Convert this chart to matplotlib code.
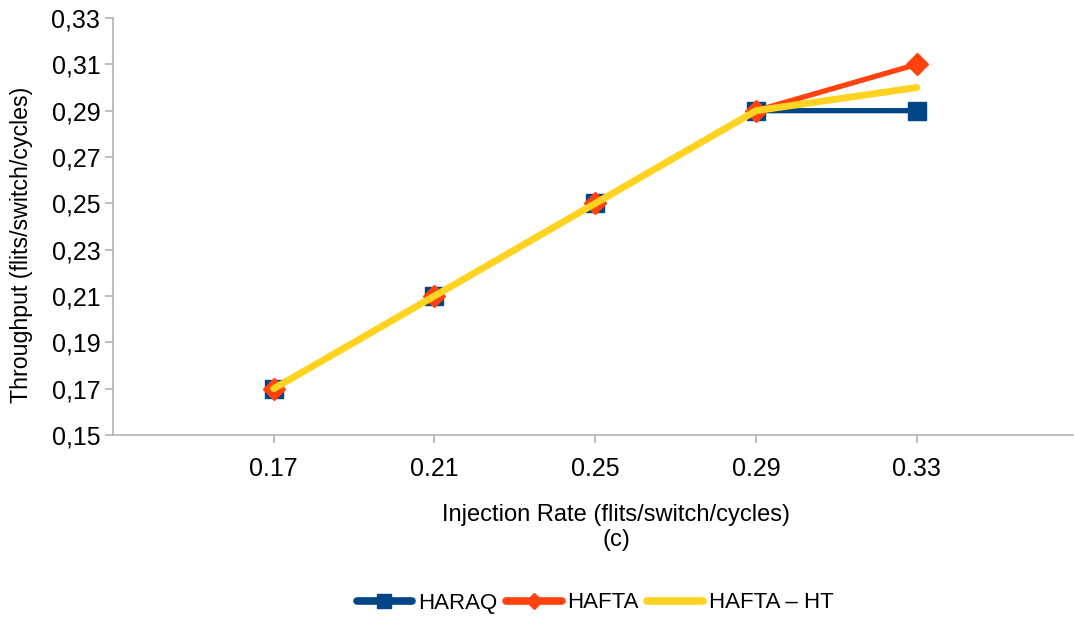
import matplotlib.pyplot as plt
from matplotlib.ticker import FuncFormatter

plt.rcParams['font.family'] = ['Liberation Sans', 'DejaVu Sans']

# data
categories = ["0.17", "0.21", "0.25", "0.29", "0.33"]
haraq = [0.17, 0.21, 0.25, 0.29, 0.29]
hafta = [0.17, 0.21, 0.25, 0.29, 0.31]
hafta_ht = [0.17, 0.21, 0.25, 0.29, 0.30]
y_ticks = [0.15, 0.17, 0.19, 0.21, 0.23, 0.25, 0.27, 0.29, 0.31, 0.33]

fig = plt.figure(figsize=(10.75, 6.21), dpi=100)
ax = fig.add_axes([0.105, 0.2995, 0.893, 0.6715])

x = list(range(len(categories)))
ax.plot(x, haraq, color="#004586", lw=3.8, marker="s", ms=13.5,
        solid_capstyle="round", label="HARAQ", zorder=3)
ax.plot(x, hafta, color="#ff420e", lw=3.8, marker="D", ms=11,
        solid_capstyle="round", label="HAFTA", zorder=4)
ax.plot(x, hafta_ht, color="#ffd320", lw=5, solid_capstyle="round",
        label="HAFTA \u2013 HT", zorder=5)

ax.set_xlim(-1, 4.97)
ax.set_ylim(0.15, 0.33)
ax.set_xticks(x)
ax.set_xticklabels(categories)
ax.set_yticks(y_ticks)
ax.yaxis.set_major_formatter(FuncFormatter(lambda v, p: f"{v:.2f}".replace(".", ",")))

for side in ["top", "right"]:
    ax.spines[side].set_visible(False)
for side in ["left", "bottom"]:
    ax.spines[side].set_color("#b3b3b3")
    ax.spines[side].set_linewidth(1.2)
ax.tick_params(axis="both", colors="#b3b3b3", length=6, width=1.2,
               labelcolor="black", labelsize=18)
ax.tick_params(axis="x", pad=10)
ax.tick_params(axis="y", pad=3)

fig.text(616 / 1075, 1 - 515 / 621, "Injection Rate (flits/switch/cycles)",
         ha="center", va="center", fontsize=17)
fig.text(616 / 1075, 1 - 540 / 621, "(c)", ha="center", va="center", fontsize=17)
fig.text(22 / 1075, 1 - 245 / 621, "Throughput (flits/switch/cycles)",
         ha="center", va="center", rotation=90, fontsize=16.7)

leg = fig.legend(loc="center", bbox_to_anchor=(595 / 1075, 1 - 603 / 621), ncol=3,
                 frameon=False, fontsize=16, handlelength=2.5, handletextpad=0.25,
                 columnspacing=0.4, markerscale=0.75)
for line in leg.get_lines():
    line.set_linewidth(5.5)

fig.savefig("out.png", dpi=100)
